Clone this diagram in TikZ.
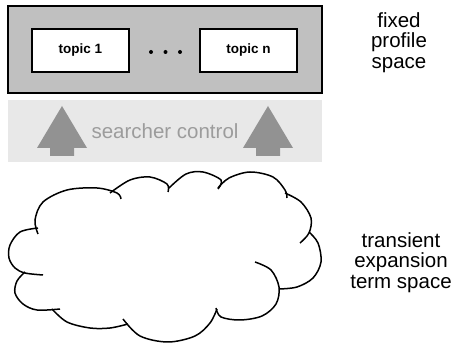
\documentclass[tikz,border=0pt]{standalone}
\usepackage{fontspec}
\setmainfont{Liberation Sans}
\usepackage{tikz}

\definecolor{profilegray}{HTML}{C0C0C0}
\definecolor{bandgray}{HTML}{E8E8E8}
\definecolor{arrowgray}{HTML}{929292}
\definecolor{textgray}{HTML}{9C9C9C}

\begin{document}
\begin{tikzpicture}[x=1pt,y=-1pt,
    space box/.style={draw,line width=2pt,fill=profilegray,minimum width=314pt,minimum height=87pt,inner sep=0pt},
    topic box/.style={draw,line width=1.3pt,fill=white,minimum width=97pt,minimum height=43pt,inner sep=0pt,font=\fontsize{13.5}{13.5}\selectfont\bfseries},
    band/.style={fill=bandgray,minimum width=314pt,minimum height=62pt,inner sep=0pt,text=textgray,font=\fontsize{20.5}{20.5}\selectfont},
    up arrow/.style={fill=arrowgray},
    label text/.style={align=center,inner sep=0pt,font=\fontsize{20.5}{20.5}\selectfont},
    cloud line/.style={line width=1.5pt,smooth,tension=0.55}]
  \useasboundingbox (0,0) rectangle (453,344);

  \node[space box] (profile) at (165,49.5) {};
  \node[topic box] (t1) at (80.5,50.5) {topic 1};
  \node[topic box] (tn) at (248.5,50.5) {topic n};
  \foreach \x in {151,165.5,180}
    \fill (\x,52) circle (2pt);

  \node[band] (control) at (165,131) {searcher control};
  \foreach \c in {62,268}
    \fill[up arrow] (\c,106) -- (\c+25,148) -- (\c+12,148) -- (\c+12,156)
      -- (\c-12,156) -- (\c-12,148) -- (\c-25,148) -- cycle;

  \node[label text,anchor=north] (fixed) at (399,12) {fixed\\profile\\space};
  \node[label text,anchor=north] (transient) at (401,232) {transient\\expansion\\term space};

  % cloud, one puff at a time
  \draw[cloud line] plot coordinates {(38,234) (35,220) (43,202) (67,190) (97,188) (117,193) (121,199)};
  \draw[cloud line] plot coordinates {(110,193) (130,180) (150,177) (167,184) (168,192)};
  \draw[cloud line] plot coordinates {(169,188) (186,174) (203,172) (221,180) (218,189)};
  \draw[cloud line] plot coordinates {(218,188) (229,178) (250,172) (273,177) (285,190) (287,198)};
  \draw[cloud line] plot coordinates {(285,193) (301,202) (311,218) (309,233) (300,243)};
  \draw[cloud line] plot coordinates {(309,232) (318,243) (321,262) (313,278) (297,287) (279,289)};
  \draw[cloud line] plot coordinates {(255,262) (271,270) (279,287) (276,304) (262,316) (240,320) (221,317) (216,308)};
  \draw[cloud line] plot coordinates {(217,309) (210,323) (195,336) (168,342) (140,336) (123,319)};
  \draw[cloud line] plot coordinates {(52,309) (67,322) (90,328) (110,328) (128,324)};
  \draw[cloud line] plot coordinates {(25,272) (17,281) (15,293) (23,304) (37,310) (60,309)};
  \draw[cloud line] plot coordinates {(38,228) (20,232) (10,245) (9,258) (15,268) (25,273) (43,275)};
\end{tikzpicture}
\end{document}
